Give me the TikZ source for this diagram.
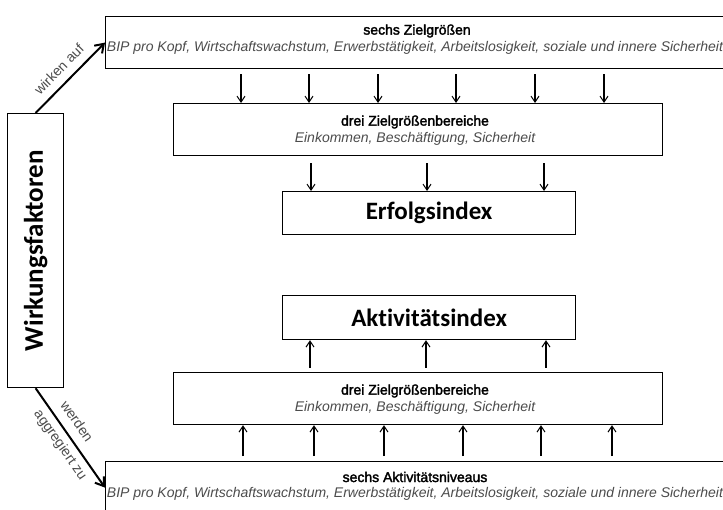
\documentclass[tikz,border=0pt]{standalone}
\usepackage{fontspec}
\setmainfont{Liberation Sans}
\newfontfamily\calfont[Ligatures=NoCommon]{Carlito}
\newfontfamily\hdrfont[FakeBold=2.2]{Liberation Sans}
\usetikzlibrary{arrows.meta}
\definecolor{txtgray}{gray}{0.3}
\begin{document}
\begin{tikzpicture}[x=1pt,y=-1pt,
  box/.style={draw, line width=1.2pt, inner sep=0pt},
  hdr/.style={font=\hdrfont\fontsize{14}{16}\selectfont, inner sep=0pt},
  itl/.style={font=\fontsize{14}{16}\selectfont\itshape, text=txtgray, inner sep=0pt},
  big/.style={font=\fontsize{25}{28}\selectfont\calfont\bfseries},
  arr/.style={-{Straight Barb[length=6pt,width=8pt,line width=1pt]}, line width=1.1pt},
  darr/.style={-{Straight Barb[length=8pt,width=11pt]}, line width=2pt},
  lbl/.style={font=\fontsize{14}{15}\selectfont, text=txtgray, inner sep=0pt}
]
\useasboundingbox (0,0) rectangle (723,510);
\clip (0,0) rectangle (723,510);
\fill[white] (0,0) rectangle (723,510);

% top box: six target values
\node[box, anchor=north west, minimum width=640pt, minimum height=52pt] (z6) at (105,16) {};
\node[hdr] (z6h) at (417,31) {sechs Zielgrößen};
\node[itl] (z6i) at (415,48) {BIP pro Kopf, Wirtschaftswachstum, Erwerbstätigkeit, Arbeitslosigkeit, soziale und innere Sicherheit};

% upper three areas
\node[box, anchor=north west, minimum width=489pt, minimum height=52pt] (d1) at (173,103) {};
\node[hdr] (d1h) at (415,122) {drei Zielgrößenbereiche};
\node[itl] (d1i) at (415,139) {Einkommen, Beschäftigung, Sicherheit};

% indices
\node[box, big, anchor=north west, minimum width=293pt, minimum height=43pt] (ei) at (282,191) {Erfolgsindex};
\node[box, big, anchor=north west, minimum width=293pt, minimum height=44pt] (ai) at (282,295) {Aktivitätsindex};

% lower three areas
\node[box, anchor=north west, minimum width=489pt, minimum height=52pt] (d2) at (173,372) {};
\node[hdr] (d2h) at (415,391) {drei Zielgrößenbereiche};
\node[itl] (d2i) at (415,408) {Einkommen, Beschäftigung, Sicherheit};

% bottom box: six activity levels
\node[box, anchor=north west, minimum width=640pt, minimum height=52pt] (ab) at (105,461) {};
\node[hdr] (abh) at (415,477) {sechs Aktivitätsniveaus};
\node[itl] (abi) at (415,494) {BIP pro Kopf, Wirtschaftswachstum, Erwerbstätigkeit, Arbeitslosigkeit, soziale und innere Sicherheit};

% Wirkungsfaktoren
\node[box, anchor=north west, minimum width=56pt, minimum height=274pt] (wf) at (7,113) {};
\node[big, font=\fontsize{27}{30}\selectfont\calfont\bfseries, rotate=90] (wft) at (wf.center) {Wirkungsfaktoren};

% diagonal arrows
\draw[darr] (wf.north) -- (z6.west) node[lbl, pos=0.48, sloped, above=8pt] {wirken auf};
\draw[darr] (wf.south) -- (ab.west)
  node[lbl, pos=0.42, sloped, above=9pt] {werden}
  node[lbl, pos=0.5, sloped, below=5pt] {aggregiert zu};

% vertical arrows
\foreach \x in {241,309,378,456,535,604}
  \draw[arr, shorten <=5pt] (z6.south -| \x,0) -- (d1.north -| \x,0);
\foreach \x in {311,427,544}
  \draw[arr, shorten <=7pt] (d1.south -| \x,0) -- (ei.north -| \x,0);
\foreach \x in {310,426,546}
  \draw[arr, shorten <=4pt] (d2.north -| \x,0) -- (ai.south -| \x,0);
\foreach \x in {243,314,384,463,541,612}
  \draw[arr, shorten <=5pt] (ab.north -| \x,0) -- (d2.south -| \x,0);
\end{tikzpicture}
\end{document}
